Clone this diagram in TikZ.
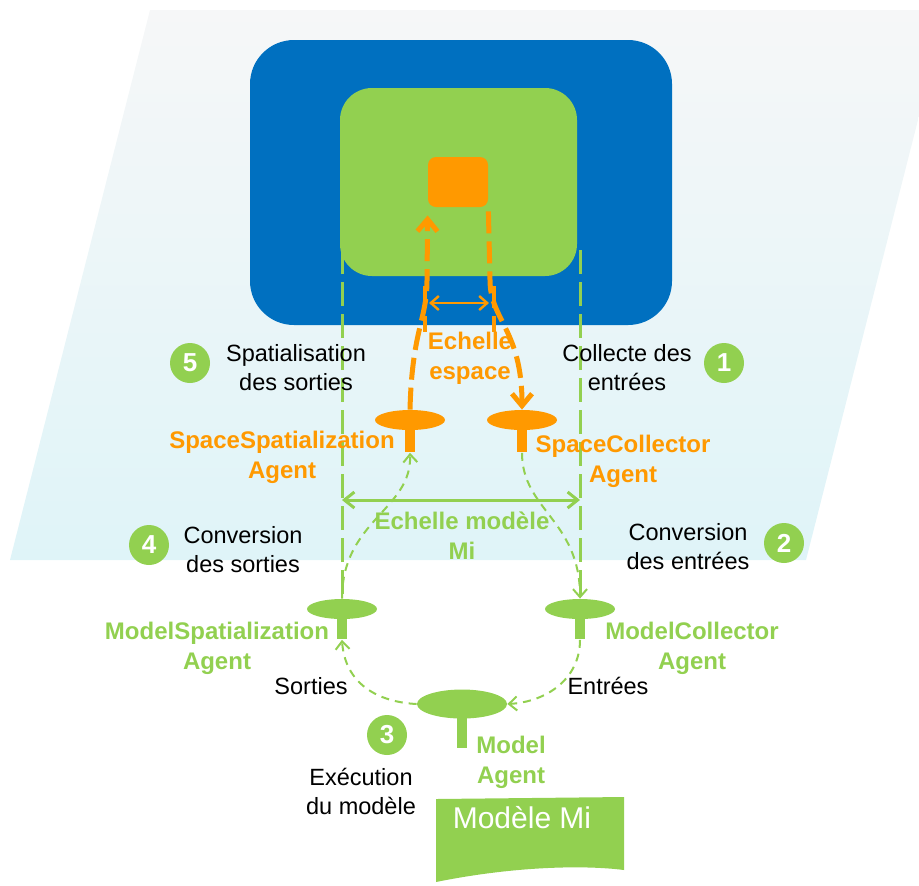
\documentclass[tikz,border=0pt]{standalone}
\usepackage{fontspec}
\setmainfont{Liberation Sans}
\usetikzlibrary{positioning, shapes.geometric, arrows.meta}
\definecolor{zoneblue}{HTML}{0070C0}
\definecolor{modgreen}{HTML}{92D050}
\definecolor{spaceorange}{HTML}{FF9900}
\definecolor{planetop}{HTML}{F6F7F8}
\definecolor{planebot}{HTML}{DFF4F8}
\tikzset{
>={Straight Barb[length=4pt,width=7pt]}, % open arrow heads
zone/.style={rectangle, inner sep=0pt}, % the nested scale boxes
disc/.style={ellipse, minimum width=35pt, minimum height=10pt, inner sep=0pt}, % agent head
stem/.style={rectangle, anchor=north, minimum width=5pt, minimum height=16pt, inner sep=0pt}, % agent foot
txt/.style={align=center, font=\fontsize{11.75}{14.5}\selectfont},
spacelbl/.style={align=center, text=spaceorange, font=\fontsize{12}{15}\selectfont\bfseries},
modlbl/.style={align=center, text=modgreen, font=\fontsize{12}{15}\selectfont\bfseries},
numdot/.style={circle, fill=modgreen, text=white, minimum size=20pt, inner sep=0pt, font=\fontsize{13}{13}\selectfont\bfseries},
bigdash/.style={spaceorange, line width=2.5pt, dash pattern=on 11pt off 4pt},
modline/.style={modgreen, line width=1.5pt, dash pattern=on 12pt off 4pt},
flow/.style={modgreen, line width=1pt, dash pattern=on 4pt off 3pt, ->},
}

\begin{document}
\begin{tikzpicture}[x=0.5pt, y=-0.5pt]
        \useasboundingbox (0,0) rectangle (919,885);
        % the space plane
        \shade[top color=planetop, bottom color=planebot] (150,10) -- (919,10) -- (919,116) -- (806,560) -- (10,560) -- cycle;

        \node[zone, fill=zoneblue, minimum width=211pt, minimum height=142.5pt, rounded corners=22pt] (espace) at (461,182.5) {};
        \node[zone, fill=modgreen, minimum width=118.5pt, minimum height=94pt, rounded corners=16pt] (modele) at (458.5,182) {};
        \node[zone, fill=spaceorange, minimum width=30pt, minimum height=25pt, rounded corners=4pt] (cellule) at (458,182) {};

        % agents
        \node[disc, fill=spaceorange] (ssa) at (410,420) {};
        \node[stem, fill=spaceorange] (ssa-s) at (ssa.center) {};
        \node[disc, fill=spaceorange] (sca) at (522,420) {};
        \node[stem, fill=spaceorange] (sca-s) at (sca.center) {};
        \node[disc, fill=modgreen] (msa) at (342,609) {};
        \node[stem, fill=modgreen, minimum height=15pt] (msa-s) at (msa.center) {};
        \node[disc, fill=modgreen] (mca) at (580,609) {};
        \node[stem, fill=modgreen, minimum height=15pt] (mca-s) at (mca.center) {};
        \node[disc, fill=modgreen, minimum width=45pt, minimum height=14.5pt] (ma) at (462,704) {};
        \node[stem, fill=modgreen, minimum height=22pt] (ma-s) at (ma.center) {};

        % space scale
        \coordinate (cl) at ([yshift=-4pt]cellule.south west);
        \coordinate (cr) at ([yshift=-2pt]cellule.south east);
        \draw[bigdash, ->, >={Straight Barb[length=6pt,width=10pt]}] (ssa.north) .. controls (412,330) and (427,320) .. (427,280) -- (cl);
        \draw[bigdash, ->, >={Straight Barb[length=6pt,width=10pt]}] (cr) -- (490,280) .. controls (490,320) and (522,330) .. (sca.north);
        \draw[bigdash, line width=2pt] (425,286) -- (425,332);
        \draw[bigdash, line width=2pt] (494,286) -- (494,332);
        \draw[<->, spaceorange, line width=1.2pt] (429,303) -- (489,303);
        \node[spacelbl] (echesp) at (470,358) {Echelle\\espace};

        % model scale
        \coordinate (gl) at (342,250);
        \coordinate (gr) at (580,250);
        \draw[modline] (gl) -- (msa.north);
        \draw[modline] (gr) -- (mca.north);
        \draw[<->, modgreen, line width=1.5pt, >={Straight Barb[length=5pt,width=8pt]}] (342,500) -- (580,500);
        \node[modlbl] (echmod) at (462,536) {Echelle modèle\\Mi};

        % flows
        \draw[flow] (sca-s.south) .. controls (522,510) and (580,520) .. (mca.north);
        \draw[flow] (mca-s.south) .. controls (580,680) and (545,702) .. (ma.east);
        \draw[flow] (ma.west) .. controls (378,702) and (345,684) .. (msa-s.south);
        \draw[flow] (msa.north) .. controls (342,520) and (412,510) .. (ssa-s.south);

        % the model
        \fill[modgreen] (436,799) -- (624,797) -- (624,870) .. controls (585,865) and (515,866) .. (436,882) -- cycle;
        \node[text=white, font=\fontsize{15}{15}\selectfont] (mi) at (522,818) {Modèle Mi};

        % labels
        \node[spacelbl] (ssa-l) at (282,457) {SpaceSpatialization\\Agent};
        \node[spacelbl] (sca-l) at (623,461) {SpaceCollector\\Agent};
        \node[modlbl] (msa-l) at (217,648) {ModelSpatialization\\Agent};
        \node[modlbl] (mca-l) at (692,648) {ModelCollector\\Agent};
        \node[modlbl] (ma-l) at (511,762) {Model\\Agent};

        \node[numdot] (n1) at (724,363) {1};
        \node[txt] (collecte) at (627,368) {Collecte des\\entrées};
        \node[numdot] (n2) at (784,543) {2};
        \node[txt] (conv-e) at (688,547) {Conversion\\des entrées};
        \node[numdot] (n3) at (387,735) {3};
        \node[txt] (exec) at (361,791) {Exécution\\du modèle};
        \node[numdot] (n4) at (149,545) {4};
        \node[txt] (conv-s) at (243,550) {Conversion\\des sorties};
        \node[numdot] (n5) at (190,363) {5};
        \node[txt] (spatia) at (296,368) {Spatialisation\\des sorties};
        \node[txt] (sorties) at (311,686) {Sorties};
        \node[txt] (entrees) at (608,686) {Entrées};
      \end{tikzpicture}
\end{document}
